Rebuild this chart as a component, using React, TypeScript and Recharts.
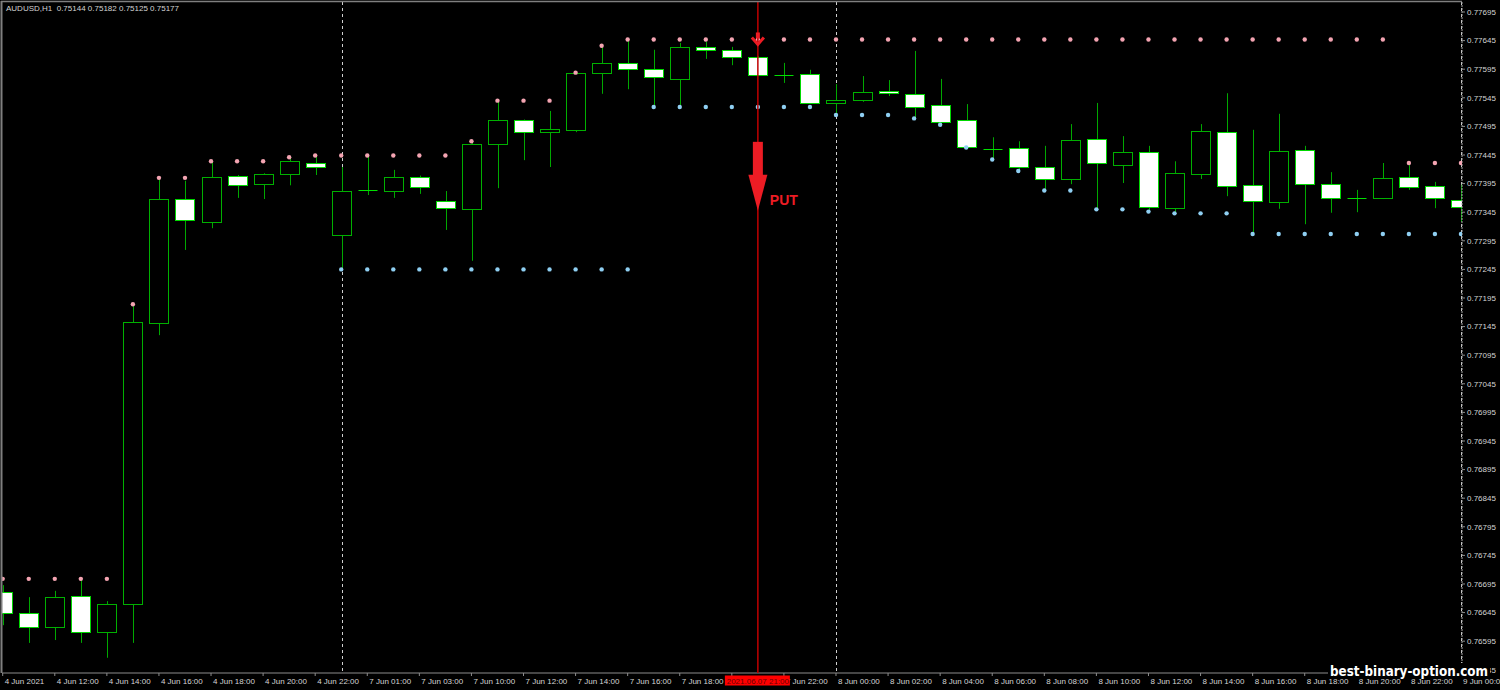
import React from 'react';
import { ComposedChart, Bar, Line, XAxis, YAxis, ReferenceLine, ReferenceDot } from 'recharts';

const FONT = '"Liberation Sans", Arial, sans-serif';
const WIDTH = 1500;
const HEIGHT = 690;

const title = 'AUDUSD,H1  0.75144 0.75182 0.75125 0.75177';
const watermark = 'best-binary-option.com';

// H1 bars, first label shows the date only (as MT4 does)
const times = [
  '4 Jun 2021', '4 Jun 11:00', '4 Jun 12:00', '4 Jun 13:00', '4 Jun 14:00', '4 Jun 15:00',
  '4 Jun 16:00', '4 Jun 17:00', '4 Jun 18:00', '4 Jun 19:00', '4 Jun 20:00', '4 Jun 21:00',
  '4 Jun 22:00', '7 Jun 00:00', '7 Jun 01:00', '7 Jun 02:00', '7 Jun 03:00', '7 Jun 09:00',
  '7 Jun 10:00', '7 Jun 11:00', '7 Jun 12:00', '7 Jun 13:00', '7 Jun 14:00', '7 Jun 15:00',
  '7 Jun 16:00', '7 Jun 17:00', '7 Jun 18:00', '7 Jun 19:00', '7 Jun 20:00', '7 Jun 21:00',
  '7 Jun 22:00', '7 Jun 23:00', '8 Jun 00:00', '8 Jun 01:00', '8 Jun 02:00', '8 Jun 03:00',
  '8 Jun 04:00', '8 Jun 05:00', '8 Jun 06:00', '8 Jun 07:00', '8 Jun 08:00', '8 Jun 09:00',
  '8 Jun 10:00', '8 Jun 11:00', '8 Jun 12:00', '8 Jun 13:00', '8 Jun 14:00', '8 Jun 15:00',
  '8 Jun 16:00', '8 Jun 17:00', '8 Jun 18:00', '8 Jun 19:00', '8 Jun 20:00', '8 Jun 21:00',
  '8 Jun 22:00', '8 Jun 23:00', '9 Jun 00:00',
];

const opens = [
  0.76681, 0.76644, 0.7662, 0.76674, 0.76611, 0.7666, 0.77151, 0.77368, 0.77328, 0.77408,
  0.77394, 0.77412, 0.77431, 0.77305, 0.77384, 0.77382, 0.77407, 0.77365, 0.77351, 0.77464,
  0.77506, 0.77485, 0.77489, 0.77588, 0.77606, 0.77595, 0.77578, 0.77634, 0.77629, 0.77616,
  0.77585, 0.77587, 0.77536, 0.77541, 0.77557, 0.77552, 0.77532, 0.77506, 0.77455, 0.77457,
  0.77424, 0.77403, 0.77473, 0.77427, 0.7745, 0.77352, 0.77412, 0.77485, 0.77392, 0.77363,
  0.77454, 0.77394, 0.7737, 0.7737, 0.77407, 0.77391, 0.77366,
];
const highs = [
  0.76693, 0.76672, 0.76683, 0.76704, 0.76665, 0.77184, 0.77405, 0.774, 0.77434, 0.7741,
  0.77413, 0.77441, 0.77444, 0.77424, 0.77444, 0.77419, 0.77409, 0.77382, 0.77469, 0.7754,
  0.77507, 0.77522, 0.77589, 0.77636, 0.77647, 0.77629, 0.77641, 0.77643, 0.77634, 0.77618,
  0.77606, 0.77594, 0.77569, 0.77583, 0.77576, 0.77627, 0.77578, 0.77534, 0.77476, 0.77469,
  0.77461, 0.77499, 0.77536, 0.77478, 0.77461, 0.77434, 0.77499, 0.77553, 0.77489, 0.77517,
  0.77461, 0.77415, 0.77384, 0.77431, 0.77431, 0.77398, 0.77393,
];
const lows = [
  0.76623, 0.76592, 0.76597, 0.76592, 0.76566, 0.76592, 0.7713, 0.77279, 0.77317, 0.7737,
  0.77368, 0.77392, 0.7741, 0.77245, 0.77375, 0.7737, 0.77377, 0.77314, 0.7726, 0.77387,
  0.77436, 0.77424, 0.77485, 0.77552, 0.7756, 0.77529, 0.77532, 0.77613, 0.77602, 0.77583,
  0.77571, 0.77535, 0.77515, 0.77538, 0.77548, 0.77509, 0.77498, 0.77458, 0.77437, 0.77417,
  0.77383, 0.77394, 0.7735, 0.77396, 0.77346, 0.77343, 0.77403, 0.77373, 0.77307, 0.77351,
  0.77324, 0.77344, 0.77345, 0.77368, 0.77384, 0.77352, 0.77328,
];
const closes = [
  0.76644, 0.7662, 0.76672, 0.76611, 0.7666, 0.77153, 0.77368, 0.77331, 0.77407, 0.77392,
  0.77412, 0.77434, 0.77424, 0.77382, 0.77384, 0.77407, 0.77389, 0.77352, 0.77464, 0.77506,
  0.77485, 0.7749, 0.77588, 0.77606, 0.77595, 0.77581, 0.77634, 0.77629, 0.77616, 0.77585,
  0.77585, 0.77536, 0.77541, 0.77555, 0.77553, 0.77529, 0.77503, 0.77459, 0.77455, 0.77424,
  0.77403, 0.77471, 0.77431, 0.7745, 0.77354, 0.77413, 0.77487, 0.77391, 0.77365, 0.77452,
  0.77394, 0.7737, 0.7737, 0.77405, 0.77389, 0.7737, 0.77354,
];

// upper / lower level dots of the channel indicator
const resistance = [
  0.76704, 0.76704, 0.76704, 0.76704, 0.76704, 0.77184, 0.77405, 0.77405, 0.77434, 0.77434,
  0.77434, 0.77441, 0.77444, 0.77444, 0.77444, 0.77444, 0.77444, 0.77444, 0.77469, 0.7754,
  0.7754, 0.7754, 0.77589, 0.77636, 0.77647, 0.77647, 0.77647, 0.77647, 0.77647, 0.77647,
  0.77647, 0.77647, 0.77647, 0.77647, 0.77647, 0.77647, 0.77647, 0.77647, 0.77647, 0.77647,
  0.77647, 0.77647, 0.77647, 0.77647, 0.77647, 0.77647, 0.77647, 0.77647, 0.77647, 0.77647,
  0.77647, 0.77647, 0.77647, 0.77647, 0.77431, 0.77431, 0.77431,
];
const support = [
  null, null, null, null, null, null, null, null, null, null,
  null, null, null, 0.77245, 0.77245, 0.77245, 0.77245, 0.77245, 0.77245, 0.77245,
  0.77245, 0.77245, 0.77245, 0.77245, 0.77245, 0.77529, 0.77529, 0.77529, 0.77529, 0.77529,
  0.77529, 0.77529, 0.77515, 0.77515, 0.77515, 0.77509, 0.77498, 0.77458, 0.77437, 0.77417,
  0.77383, 0.77383, 0.7735, 0.7735, 0.77346, 0.77343, 0.77343, 0.77343, 0.77307, 0.77307,
  0.77307, 0.77307, 0.77307, 0.77307, 0.77307, 0.77307, 0.77307,
];

const priceTicks = [
  0.76545, 0.76595, 0.76645, 0.76695, 0.76745, 0.76795, 0.76845, 0.76895, 0.76945, 0.76995,
  0.77045, 0.77095, 0.77145, 0.77195, 0.77245, 0.77295, 0.77345, 0.77395, 0.77445, 0.77495,
  0.77545, 0.77595, 0.77645, 0.77695,
];

// PUT signal
const signalIndex = 29;
const signalTime = '2021.06.07 21:00';
const signalMarkPrice = 0.77647;
const signalArrowPrice = 0.77468;

const X_DOMAIN = [-0.027, 56.04];
const Y_DOMAIN = [0.7653937, 0.7771248];

const BULL = '#00b000';
const BEAR = '#00d800';
const WICK = '#00a800';
const DOJI = '#00e000';
const ARROW_RED = '#ed1c24';
const AXIS_GREY = '#8c8c8c';
const LABEL = '#d4d4d4';

const dateOf = (t: string) => t.split(' ').slice(0, 2).join(' ');

const data = times.map((t, i) => ({
  i,
  t,
  open: opens[i],
  high: highs[i],
  low: lows[i],
  close: closes[i],
  range: [lows[i], highs[i]],
  res: resistance[i],
  sup: support[i],
  dayStart: i > 0 && dateOf(t) !== dateOf(times[i - 1]),
}));

const timeTicks = times.map((_, i) => i).filter((i) => i % 2 === 0);

function Candle(props: any) {
  const { x, y, width, height, payload, background } = props;
  if (!payload) return null;
  const { open, close, high, low, dayStart } = payload;
  const top = Math.min(y, y + height);
  const bottom = Math.max(y, y + height);
  const toY = (p: number) => top + ((high - p) / (high - low)) * (bottom - top);
  const cx = Math.round(x + width / 2) + 0.5;
  const yo = toY(open);
  const yc = toY(close);
  const yTop = Math.round(Math.min(yo, yc)) + 0.5;
  const yBot = Math.round(Math.max(yo, yc)) + 0.5;
  const bull = close > open;
  return (
    <g>
      {dayStart && background && (
        <line
          x1={cx}
          x2={cx}
          y1={background.y}
          y2={background.y + background.height}
          stroke="#cfcfcf"
          strokeDasharray="3 3"
        />
      )}
      <line x1={cx} x2={cx} y1={toY(high)} y2={toY(low)} stroke={WICK} strokeWidth={1} />
      {yBot - yTop < 1 ? (
        <line x1={cx - 10} x2={cx + 9} y1={yTop} y2={yTop} stroke={DOJI} />
      ) : (
        <rect
          x={cx - 10}
          y={yTop}
          width={19}
          height={yBot - yTop}
          fill={bull ? '#000' : '#fff'}
          stroke={bull ? BULL : BEAR}
        />
      )}
    </g>
  );
}

const levelDot = (color: string) => (p: any) => {
  const key = `dot-${color}-${p.index}`;
  if (typeof p.cy !== 'number' || Number.isNaN(p.cy) || p.value == null) return <g key={key} />;
  return <circle key={key} cx={p.cx} cy={p.cy} r={2.2} fill={color} />;
};

function TimeTick({ x, y, payload }: any) {
  return (
    <text x={x + 2} y={y + 6} fill={LABEL} fontSize={8} fontFamily={FONT} textAnchor="start">
      {times[payload.value]}
    </text>
  );
}

function SignalMark({ cx, cy }: any) {
  if (cx == null || cy == null) return null;
  return (
    <g>
      <rect x={cx - 2} y={cy - 7} width={4} height={6} fill={ARROW_RED} />
      <polyline
        points={`${cx - 6},${cy - 2} ${cx},${cy + 5} ${cx + 6},${cy - 2}`}
        fill="none"
        stroke={ARROW_RED}
        strokeWidth={3}
      />
    </g>
  );
}

function PutArrow({ cx, cy }: any) {
  if (cx == null || cy == null) return null;
  return (
    <g>
      <rect x={cx - 5} y={cy} width={10} height={34} fill={ARROW_RED} />
      <polygon points={`${cx - 9.5},${cy + 33} ${cx + 9.5},${cy + 33} ${cx},${cy + 69}`} fill={ARROW_RED} />
      <text x={cx + 12} y={cy + 63} fill={ARROW_RED} fontSize={14} fontWeight="bold" fontFamily={FONT}>
        PUT
      </text>
    </g>
  );
}

function SignalTimeLabel({ viewBox }: any) {
  if (!viewBox) return null;
  const { x, y, height } = viewBox;
  const by = y + height + 2.5;
  return (
    <g>
      <rect x={x - 33} y={by} width={65} height={10} fill="#ff0000" />
      <text x={x} y={by + 8} textAnchor="middle" fill="#6a0000" fontSize={8} fontFamily={FONT}>
        {signalTime}
      </text>
    </g>
  );
}

export default function App() {
  return (
    <div style={{ position: 'relative', width: WIDTH, height: HEIGHT, background: '#000' }}>
      <style>{'body{margin:0;background:#000}'}</style>
      <ComposedChart
        width={WIDTH}
        height={HEIGHT}
        data={data}
        margin={{ top: 2, right: 0, bottom: 0, left: 2 }}
      >
        <XAxis
          dataKey="i"
          type="number"
          domain={X_DOMAIN}
          allowDataOverflow
          ticks={timeTicks}
          interval={0}
          height={17}
          tickSize={3}
          tickMargin={2}
          axisLine={{ stroke: AXIS_GREY }}
          tickLine={{ stroke: AXIS_GREY }}
          tick={<TimeTick />}
        />
        <YAxis
          orientation="right"
          type="number"
          domain={Y_DOMAIN}
          allowDataOverflow
          ticks={priceTicks}
          interval={0}
          width={38}
          tickSize={3}
          tickMargin={2}
          axisLine={{ stroke: '#a8a8a8', strokeDasharray: '2 1' }}
          tickLine={{ stroke: AXIS_GREY }}
          tick={{ fill: LABEL, fontSize: 8, fontFamily: FONT, textAnchor: 'start' }}
          tickFormatter={(v: number) => v.toFixed(5)}
        />
        <Bar dataKey="range" barSize={19} shape={(p: any) => <Candle {...p} />} isAnimationActive={false} />
        <Line
          dataKey="res"
          stroke="none"
          dot={levelDot('#f4a4b2')}
          activeDot={false}
          isAnimationActive={false}
        />
        <Line
          dataKey="sup"
          stroke="none"
          dot={levelDot('#8fcff2')}
          activeDot={false}
          isAnimationActive={false}
        />
      </ComposedChart>
      {/* signal layer on top of the axes, same plot box as the main chart */}
      <div style={{ position: 'absolute', left: 0, top: 0 }}>
        <ComposedChart
          width={WIDTH}
          height={HEIGHT}
          data={data}
          margin={{ top: 2, right: 38, bottom: 17, left: 2 }}
        >
          <XAxis dataKey="i" type="number" domain={X_DOMAIN} allowDataOverflow hide />
          <YAxis type="number" domain={Y_DOMAIN} allowDataOverflow hide />
          <ReferenceLine
            x={signalIndex}
            stroke="#c00000"
            strokeWidth={1.5}
            label={<SignalTimeLabel />}
          />
          <ReferenceDot x={signalIndex} y={signalMarkPrice} shape={(p: any) => <SignalMark {...p} />} />
          <ReferenceDot x={signalIndex} y={signalArrowPrice} shape={(p: any) => <PutArrow {...p} />} />
        </ComposedChart>
      </div>
      <svg
        width={WIDTH}
        height={HEIGHT}
        style={{ position: 'absolute', left: 0, top: 0, pointerEvents: 'none' }}
      >
        <line x1={1} x2={1462} y1={1.5} y2={1.5} stroke="#7f7f7f" strokeWidth={1.5} />
        <line x1={1.5} x2={1.5} y1={1} y2={673} stroke="#7f7f7f" strokeWidth={2} />
        <text x={6} y={10.5} fill={LABEL} fontSize={8} fontFamily={FONT} style={{ whiteSpace: 'pre' }}>
          {title}
        </text>
        <rect x={1328} y={663} width={162} height={14} fill="#000" />
        <text
          x={1330}
          y={676}
          fill="#fff"
          fontSize={14}
          fontWeight="bold"
          fontFamily='"DejaVu Sans", sans-serif'
          textLength={158}
          lengthAdjust="spacingAndGlyphs"
        >
          {watermark}
        </text>
      </svg>
    </div>
  );
}
